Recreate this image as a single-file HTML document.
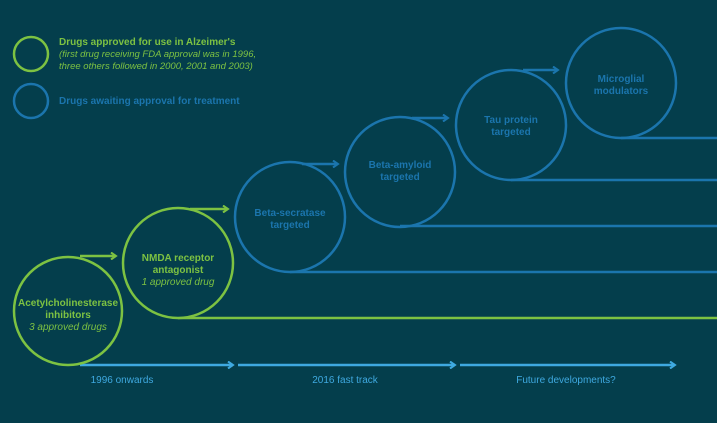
<!DOCTYPE html>
<html><head><style>
body{margin:0;background:#043e4c;}
svg{display:block}
text{font-family:"Liberation Sans",sans-serif;font-size:10px;text-anchor:middle}
.g{fill:#7dc242}.b{fill:#1b75ad}
.bold{font-weight:bold}
.it{font-style:italic}
</style></head><body>
<svg width="717" height="423" viewBox="0 0 717 423">
<rect width="717" height="423" fill="#043e4c"/>
<defs>
<marker id="ag" markerWidth="8" markerHeight="8" refX="6" refY="4" orient="auto" markerUnits="userSpaceOnUse"><path d="M1,0.5 L6,4 L1,7.5" fill="none" stroke="#7dc242" stroke-width="2"/></marker>
<marker id="ab" markerWidth="8" markerHeight="8" refX="6" refY="4" orient="auto" markerUnits="userSpaceOnUse"><path d="M1,0.5 L6,4 L1,7.5" fill="none" stroke="#1b75ad" stroke-width="2"/></marker>
<marker id="al" markerWidth="8" markerHeight="8" refX="6" refY="4" orient="auto" markerUnits="userSpaceOnUse"><path d="M1,0.5 L6,4 L1,7.5" fill="none" stroke="#3fa9e0" stroke-width="2"/></marker>
</defs>
<!-- legend -->
<circle cx="31" cy="54" r="17" fill="none" stroke="#7dc242" stroke-width="2.5"/>
<circle cx="31" cy="101" r="17" fill="none" stroke="#1b75ad" stroke-width="2.5"/>
<g style="text-anchor:start">
<text x="59" y="45" class="g bold" style="text-anchor:start">Drugs approved for use in Alzeimer's</text>
<text x="59" y="57" class="g it" style="text-anchor:start;font-size:9.5px">(first drug receiving FDA approval was in 1996,</text>
<text x="59" y="69" class="g it" style="text-anchor:start;font-size:9.5px">three others followed in 2000, 2001 and 2003)</text>
<text x="59" y="104" class="b bold" style="text-anchor:start">Drugs awaiting approval for treatment</text>
</g>
<!-- lines -->
<g fill="none" stroke-width="2.5">
<line x1="178" y1="318" x2="717" y2="318" stroke="#7dc242"/>
<line x1="290" y1="272" x2="717" y2="272" stroke="#1b75ad"/>
<line x1="400" y1="226" x2="717" y2="226" stroke="#1b75ad"/>
<line x1="511" y1="180" x2="717" y2="180" stroke="#1b75ad"/>
<line x1="621" y1="138" x2="717" y2="138" stroke="#1b75ad"/>
<line x1="80" y1="256" x2="116" y2="256" stroke="#7dc242" marker-end="url(#ag)"/>
<line x1="190" y1="209" x2="228" y2="209" stroke="#7dc242" marker-end="url(#ag)"/>
<line x1="302" y1="164" x2="338" y2="164" stroke="#1b75ad" marker-end="url(#ab)"/>
<line x1="412" y1="118" x2="448" y2="118" stroke="#1b75ad" marker-end="url(#ab)"/>
<line x1="523" y1="70" x2="558" y2="70" stroke="#1b75ad" marker-end="url(#ab)"/>
<line x1="80" y1="365" x2="233" y2="365" stroke="#3fa9e0" marker-end="url(#al)"/>
<line x1="238" y1="365" x2="455" y2="365" stroke="#3fa9e0" marker-end="url(#al)"/>
<line x1="460" y1="365" x2="675" y2="365" stroke="#3fa9e0" marker-end="url(#al)"/>
<circle cx="68" cy="311" r="54" fill="#043e4c" stroke="#7dc242"/>
<circle cx="178" cy="263" r="55" fill="#043e4c" stroke="#7dc242"/>
<circle cx="290" cy="217" r="55" stroke="#1b75ad"/>
<circle cx="400" cy="172" r="55" stroke="#1b75ad"/>
<circle cx="511" cy="125" r="55" stroke="#1b75ad"/>
<circle cx="621" cy="83" r="55" stroke="#1b75ad"/>
</g>
<text x="68" y="306" class="g bold">Acetylcholinesterase</text>
<text x="68" y="318" class="g bold">inhibitors</text>
<text x="68" y="330" class="g it">3 approved drugs</text>
<text x="178" y="261" class="g bold">NMDA receptor</text>
<text x="178" y="273" class="g bold">antagonist</text>
<text x="178" y="285" class="g it">1 approved drug</text>
<text x="290" y="216" class="b bold">Beta-secratase</text>
<text x="290" y="228" class="b bold">targeted</text>
<text x="400" y="168" class="b bold">Beta-amyloid</text>
<text x="400" y="180" class="b bold">targeted</text>
<text x="511" y="123" class="b bold">Tau protein</text>
<text x="511" y="135" class="b bold">targeted</text>
<text x="621" y="82" class="b bold">Microglial</text>
<text x="621" y="94" class="b bold">modulators</text>
<text x="122" y="383" style="fill:#3fa9e0">1996 onwards</text>
<text x="345" y="383" style="fill:#3fa9e0">2016 fast track</text>
<text x="566" y="383" style="fill:#3fa9e0">Future developments?</text>
</svg>
</body></html>
